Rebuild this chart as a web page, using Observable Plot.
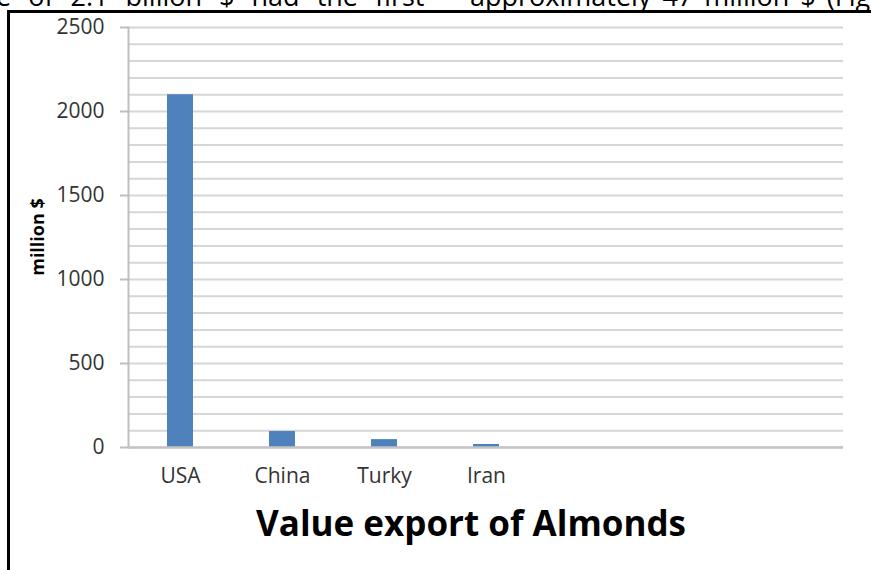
<!DOCTYPE html>
<html>
<head>
<meta charset="utf-8">
<script src="https://cdn.jsdelivr.net/npm/d3@7"></script>
<script src="https://cdn.jsdelivr.net/npm/@observablehq/plot@0.6"></script>
<style>
  body { margin: 0; background: #fff; font-family: "Open Sans", sans-serif; }
  #page { position: relative; width: 871px; height: 570px; overflow: hidden; background: #fff; }
  #frame { position: absolute; left: 7px; top: 10px; width: 900px; height: 600px;
           border-left: 3.5px solid #000; border-top: 3.5px solid #000; }
  #chart { position: absolute; left: 0; top: 0; }
  #toptext { position: absolute; top: -18px; left: 0; width: 871px; height: 27px; font-size: 27px; line-height: 27px; color: #000; white-space: nowrap; }
  #toptext span { position: absolute; top: 0; }
  #ylabel { position: absolute; left: 37px; top: 237px; transform: translate(-50%, -50%) rotate(-90deg);
            font-weight: 700; font-size: 18px; color: #000; white-space: nowrap; }
  #title { position: absolute; left: 471px; top: 522px; transform: translate(-50%, -50%);
           font-weight: 700; font-size: 35px; color: #000; white-space: nowrap; }
</style>
</head>
<body>
<div id="page">
  <div id="toptext"><span style="left:-4px; word-spacing:10px">e of 2.1 billion $ had the first</span><span style="left:470px; word-spacing:4px">approximately 47 million $ (Fig</span></div>
  <div id="frame"></div>
  <div id="chart"></div>
  <div id="ylabel">million $</div>
  <div id="title">Value export of Almonds</div>
</div>
<script>
const countries = ["USA", "China", "Turky", "Iran"];
const values = [2100, 95, 47, 18];
const emptySlots = ["_e1", "_e2", "_e3"];
const yTickValues = [0, 500, 1000, 1500, 2000, 2500];
const yGridValues = d3.range(0, 2501, 100);

const data = countries.map((c, i) => ({country: c, value: values[i]}));

const chart = Plot.plot({
  width: 871,
  height: 500,
  marginLeft: 128,
  marginRight: 28,
  marginTop: 27,
  marginBottom: 53,
  style: {fontFamily: "'Open Sans', sans-serif", fontSize: "21px", color: "#333", background: "transparent"},
  x: {domain: [...countries, ...emptySlots], paddingInner: 0.75, paddingOuter: 0.375},
  y: {domain: [0, 2500]},
  marks: [
    Plot.gridY(yGridValues, {stroke: "#d6d6d6", strokeOpacity: 1, strokeWidth: 2}),
    Plot.barY(data, {x: "country", y: "value", fill: "#4f81bd"}),
    Plot.frame({anchor: "left", stroke: "#bfbfbf", strokeWidth: 2}),
    Plot.ruleY([0], {stroke: "#c4c4c4", strokeWidth: 2.5}),
    Plot.axisY({ticks: yTickValues, tickSize: 8, tickPadding: 16, tickFormat: d3.format("d"), stroke: "#bfbfbf", strokeWidth: 2, label: null, fill: "#333"}),
    Plot.axisX({tickSize: 0, tickPadding: 21, label: null, tickFormat: d => d.startsWith("_e") ? "" : d, fill: "#333"})
  ]
});
document.getElementById("chart").appendChild(chart);
</script>
</body>
</html>
